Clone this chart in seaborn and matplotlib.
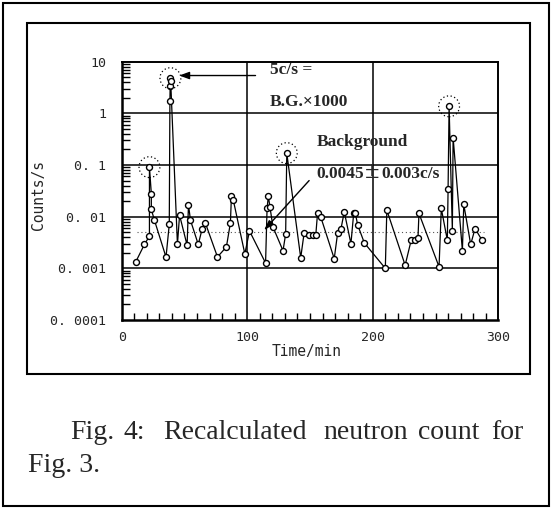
import matplotlib
matplotlib.use("Agg")
import matplotlib.pyplot as plt
import matplotlib.patches as mpatches
import matplotlib.ticker as mticker
import numpy as np
import pandas as pd
import seaborn as sns

# ---- data ----
time_min = [11.3, 18.1, 22.1, 22.1, 23.6, 23.6, 26.1, 35.3, 37.9, 38.4, 38.6, 38.8, 39.0,
            44.4, 46.1, 52.1, 53.2, 54.8, 61.0, 64.0, 66.6, 76.3, 83.4, 86.6, 87.4, 88.8,
            98.1, 101.8, 114.6, 115.8, 116.8, 118.1, 120.5, 128.5, 130.6, 131.5, 142.6,
            145.3, 149.3, 152.0, 154.6, 156.0, 158.6, 169.3, 172.0, 174.6, 177.3, 182.6,
            184.8, 186.1, 188.0, 193.3, 210.0, 211.2, 225.8, 230.6, 233.3, 236.0, 236.8,
            252.8, 254.6, 259.4, 260.0, 260.8, 263.4, 264.0, 271.4, 272.5, 278.0, 281.5,
            287.0]
counts = [0.00135, 0.0029, 0.0042, 0.091, 0.028, 0.0138, 0.0085, 0.00165, 0.0071, 1.7, 3.4,
          4.8, 4.3, 0.0029, 0.0107, 0.0028, 0.017, 0.0085, 0.0029, 0.0057, 0.0076, 0.00166,
          0.0026, 0.0076, 0.025, 0.0215, 0.0019, 0.0053, 0.00127, 0.0144, 0.025, 0.0154,
          0.0063, 0.0022, 0.0046, 0.17, 0.0016, 0.0048, 0.0044, 0.0044, 0.0044, 0.0116,
          0.0098, 0.00154, 0.0048, 0.0057, 0.0124, 0.0030, 0.0116, 0.0116, 0.0069, 0.0031,
          0.00100, 0.0134, 0.00115, 0.0035, 0.0036, 0.0038, 0.0116, 0.00107, 0.0144, 0.0035,
          0.035, 1.37, 0.0054, 0.34, 0.0022, 0.0173, 0.0029, 0.0059, 0.0035]
peak_time = [22.1, 38.8, 131.5, 260.8]
peak_counts = [0.091, 4.8, 0.17, 1.37]
background_level = 0.005
background_span = [12, 289]
y_tick_values = [0.0001, 0.001, 0.01, 0.1, 1, 10]
y_tick_labels = ["0. 0001", "0. 001", "0. 01", "0. 1", "1", "10"]
x_tick_values = [0, 100, 200, 300]

sns.set_style("white")
plt.rcParams["font.family"] = ["DejaVu Sans"]

W, H = 553, 509
fig = plt.figure(figsize=(W / 100, H / 100), dpi=100)

def fx(px):
    return px / W

def fy(py):
    return 1 - py / H

ax_l, ax_r, ax_t, ax_b = 121.7, 498.3, 61.7, 320.0
ax = fig.add_axes([fx(ax_l), fy(ax_b), (ax_r - ax_l) / W, (ax_b - ax_t) / H])

df = pd.DataFrame({"t": time_min, "c": counts})
ax.set_yscale("log")
ax.set_xlim(0, 300)
ax.set_ylim(1e-4, 10)

# grid
for yv in [0.001, 0.01, 0.1, 1]:
    ax.axhline(yv, color="black", lw=1.1, zorder=1)
for xv in [100, 200]:
    ax.axvline(xv, color="black", lw=1.1, zorder=1)

# background dotted line
ax.plot(background_span, [background_level] * 2, color="#555555", lw=0.8,
        ls=(0, (1, 2.5)), zorder=2)

sns.lineplot(data=df, x="t", y="c", sort=False, estimator=None, color="black", lw=0.9,
             marker="o", markersize=4.3, markerfacecolor="white", markeredgecolor="black",
             markeredgewidth=1.0, ax=ax, zorder=3)

# dotted circles around peaks
ax.scatter(peak_time, peak_counts, s=15 ** 2, facecolors="none", edgecolors="black",
           linewidths=0.9, linestyles=(0, (1, 2)), zorder=4)

# ticks
ax.set_yticks(y_tick_values)
ax.set_yticklabels(y_tick_labels)
ax.yaxis.set_minor_locator(mticker.LogLocator(base=10, subs=np.arange(2, 10)))
ax.yaxis.set_minor_formatter(mticker.NullFormatter())
ax.set_xticks(x_tick_values)
ax.xaxis.set_minor_locator(mticker.MultipleLocator(10))
ax.tick_params(axis="both", which="both", direction="in", color="black",
               left=True, bottom=True, right=False, top=False)
ax.tick_params(axis="y", which="major", length=0, pad=11, labelsize=9.5)
ax.tick_params(axis="y", which="minor", length=6, width=1.0)
ax.tick_params(axis="x", which="major", length=0, pad=8, labelsize=9.5)
ax.tick_params(axis="x", which="minor", length=5, width=1.0)
for lab in ax.get_xticklabels() + ax.get_yticklabels():
    lab.set_family("DejaVu Sans Mono")

for side in ["left", "bottom"]:
    ax.spines[side].set_linewidth(1.8)
for side in ["top", "right"]:
    ax.spines[side].set_linewidth(1.4)
for s in ax.spines.values():
    s.set_color("black")

ax.set_xlabel("Time/min", family="DejaVu Sans Mono", fontsize=10.5)
ax.set_ylabel("Counts/s", family="DejaVu Sans Mono", fontsize=10.5)
ax.xaxis.set_label_coords((307 - ax_l) / (ax_r - ax_l), -(344 - ax_b) / (ax_b - ax_t))
ax.yaxis.set_label_coords(-(ax_l - 46) / (ax_r - ax_l), (ax_b - 195) / (ax_b - ax_t))

# annotations
ax.annotate("", xy=(45.8, 5.4), xytext=(106.6, 5.4),
            arrowprops=dict(arrowstyle="-|>,head_length=0.6,head_width=0.22",
                            color="black", lw=1.0, shrinkA=0, shrinkB=0))
ax.annotate("", xy=(113.3, 0.00543), xytext=(149.3, 0.050),
            arrowprops=dict(arrowstyle="-|>,head_length=0.6,head_width=0.18",
                            color="black", lw=1.0, shrinkA=0, shrinkB=0))

bold = dict(family="Liberation Serif", fontweight="bold", fontsize=12.5, va="center", ha="left")
fig.text(fx(270), fy(70), "5c/s =", **bold)
fig.text(fx(270), fy(101.7), "B.G.\u00d71000", **bold)
fig.text(fx(316.7), fy(141.7), "Background", **bold)
fig.text(fx(316.7), fy(174), "0.0045", **bold)
fig.text(fx(365), fy(172), "\u00b1", family="Liberation Serif", fontweight="bold",
         fontsize=19, va="center", ha="left")
fig.text(fx(381.5), fy(174), "0.003c/s", **bold)

# caption (justified words)
cap = dict(family="Liberation Serif", fontsize=20, va="baseline", ha="left")
for word, xpos in [("Fig.", 70), ("4:", 123), ("Recalculated", 163), ("neutron", 323),
                   ("count", 418), ("for", 491)]:
    fig.text(fx(xpos), fy(439), word, **cap)
fig.text(fx(28), fy(472.5), "Fig. 3.", **cap)

# frames
fig.patches.append(mpatches.Rectangle((fx(27), fy(374)), (530 - 27) / W, (374 - 23) / H,
                                      transform=fig.transFigure, fill=False, lw=1.5,
                                      edgecolor="black"))
fig.patches.append(mpatches.Rectangle((fx(3), fy(506)), (549 - 3) / W, (506 - 3) / H,
                                      transform=fig.transFigure, fill=False, lw=1.5,
                                      edgecolor="black"))

fig.savefig("out.png", dpi=100)
